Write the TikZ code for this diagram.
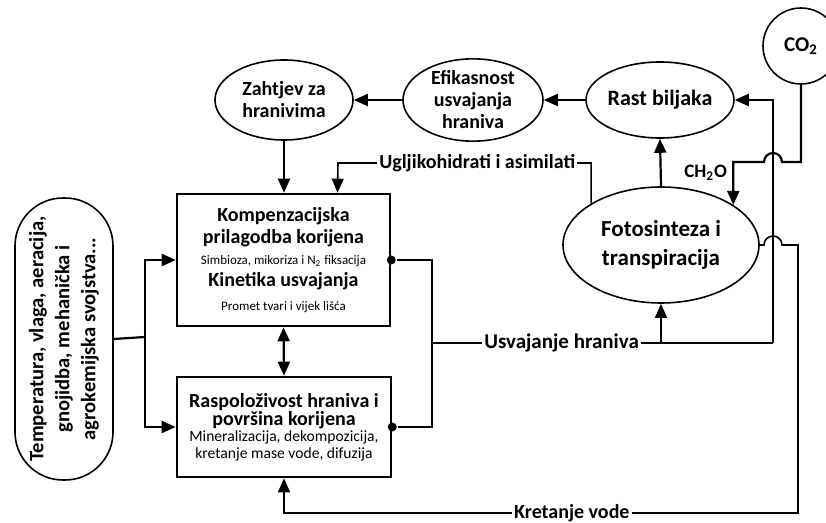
\documentclass[tikz,border=0pt]{standalone}
\usepackage{fontspec}
\setmainfont{Carlito}
\usetikzlibrary{arrows.meta, positioning, shapes.geometric}
\newcommand{\naslov}{\bfseries\fontsize{10}{10.5}\selectfont}
\newcommand{\sitno}{\mdseries\fontsize{6.5}{8}\selectfont}
\newcommand{\srednje}{\mdseries\fontsize{7.8}{8.5}\selectfont}
\newcommand{\tijesno}{\lineskiplimit=-5pt\relax}
\tikzset{
  every picture/.style={line width=1.1pt},
  blok/.style={draw, line width=1.3pt, align=center, inner sep=1pt},
  elip/.style={draw, ellipse, line width=0.8pt, align=center, inner sep=0pt, font=\bfseries\fontsize{10}{11}\selectfont},
  strelica/.style={-{Triangle[length=7pt, width=6pt]}},
  tanka/.style={line width=0.6pt},
  oznaka/.style={font=\bfseries\fontsize{10.5}{12}\selectfont, fill=white, inner sep=1pt},
  tocka/.style={circle, fill, inner sep=0pt, minimum size=4.5pt},
}
\begin{document}
\begin{tikzpicture}[x=0.5pt, y=-0.5pt]
  \useasboundingbox (0,0) rectangle (826,523);
  % lijevi cimbenici
  \node[draw, rotate=90, rounded corners=24pt, minimum width=141pt, minimum height=49pt, align=center, inner sep=1pt,
        font=\bfseries\fontsize{10.3}{13}\selectfont, line width=0.8pt] (okolis) at (64,339)
        {Temperatura, vlaga, aeracija,\\ gnojidba, mehanička i\\ agrokemijska svojstva...};
  % korijen i tlo
  \node[blok, minimum width=106.5pt, minimum height=66pt, font=\fontsize{10}{11.2}\selectfont\tijesno] (korijen) at (283.5,260)
        {\naslov Kompenzacijska\\ \naslov prilagodba korijena\\[-1pt]
         \sitno Simbioza, mikoriza i N\textsubscript{2} fiksacija\\
         \naslov Kinetika usvajanja\\[0.5pt] \sitno Promet tvari i vijek lišća};
  \node[blok, minimum width=107pt, minimum height=50pt, font=\fontsize{10}{9}\selectfont\tijesno] (tlo) at (284,427)
        {\naslov Raspoloživost hraniva i\\ \naslov površina korijena\\[-1pt]
         \srednje Mineralizacija, dekompozicija,\\[-0.5pt] \srednje kretanje mase vode, difuzija};
  % gornji red
  \node[elip, minimum width=69pt, minimum height=40pt] (zahtjev) at (284,100) {Zahtjev za\\ hranivima};
  \node[elip, minimum width=70pt, minimum height=40pt] (efikas) at (473,100) {Efikasnost\\ usvajanja\\ hraniva};
  \node[elip, minimum width=67.5pt, minimum height=38pt, font=\bfseries\fontsize{11}{12}\selectfont] (rast) at (660,100) {Rast biljaka};
  \node[elip, minimum width=98pt, minimum height=58pt, font=\bfseries\fontsize{11.5}{14.5}\selectfont] (foto) at (661,245) {Fotosinteza i\\ transpiracija};
  \node[draw, circle, minimum size=38pt, line width=0.8pt, inner sep=0pt, font=\bfseries\fontsize{10.5}{11}\selectfont] (co2) at (801,46) {CO\textsubscript{2}};
  \node[anchor=east, inner sep=1pt, font=\bfseries\fontsize{9.5}{10}\selectfont] (ch2o) at (730,173) {CH\textsubscript{2}O};

  \draw[strelica] (rast) -- (efikas);
  \draw[strelica] (efikas) -- (zahtjev);
  \draw[strelica] (zahtjev.south) -- (korijen.north -| zahtjev.south);
  \draw[strelica] (foto.north) -- (rast.south);
  \draw[strelica, line width=0.8pt] (foto.north west) -- (foto.north west |- 0,163)
     -- node[oznaka, font=\bfseries\fontsize{10}{12}\selectfont, pos=0.45] (ugljik) {Ugljikohidrati i asimilati} (338,163)
     -- ([xshift=27pt]korijen.north);
  \draw[<->, >={Triangle[length=7pt, width=6pt]}] (korijen.south) -- (tlo.north);

  % okolis prema korijenu i tlu
  \draw (okolis.south) -- (145,337) coordinate (grana);
  \draw[strelica] (grana) |- (korijen.west);
  \draw[strelica] (grana) |- (tlo.west);

  % usvajanje hraniva
  \node[tocka] (t1) at (korijen.east) {};
  \node[tocka] (t2) at (tlo.east) {};
  \coordinate (sabir) at (432,343);
  \draw (t1) -| (sabir) |- (t2);
  \draw[tanka] (sabir) -- node[oznaka, pos=0.38] (usvaj) {Usvajanje hraniva} (773,343) coordinate (desno);
  \draw[strelica] (desno) |- (rast.east);
  \draw[strelica, tanka] (foto.south |- sabir) -- (foto.south);

  % CO2
  \draw[strelica] (co2.south) -- (co2.south |- 0,162) -- (782,162)
     arc[start angle=0, end angle=180, radius=4.5pt] -- (foto.29 |- 0,162) -- (foto.29);

  % kretanje vode
  \draw[strelica, line width=0.8pt] (foto.east) -- (764,245)
     arc[start angle=180, end angle=0, radius=4.5pt] -- (798,245) -- (798,513)
     -- node[oznaka, font=\bfseries\fontsize{10}{11}\selectfont, pos=0.44] (voda) {Kretanje vode} (284,513) -- (tlo.south);
\end{tikzpicture}
\end{document}
